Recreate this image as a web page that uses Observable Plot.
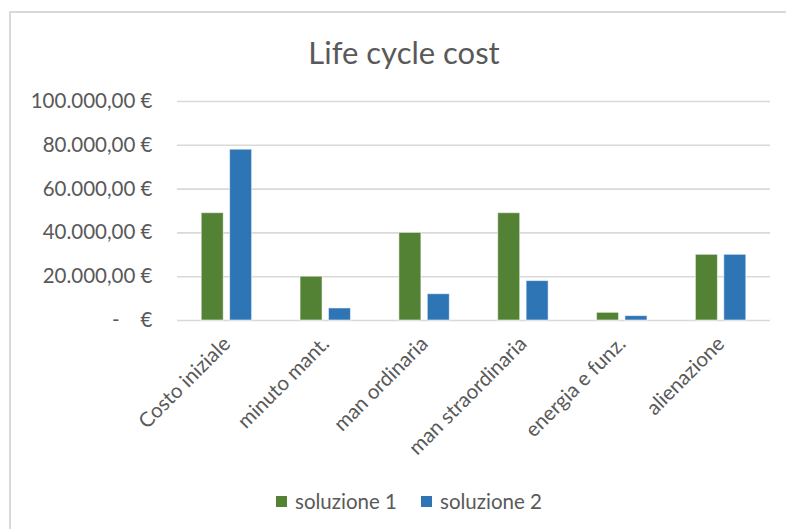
<!DOCTYPE html>
<html><head><meta charset="utf-8">
<script src="https://cdn.jsdelivr.net/npm/d3@7"></script>
<script src="https://cdn.jsdelivr.net/npm/@observablehq/plot@0.6"></script>
<style>
body{margin:0;background:#fff;font-family:Lato,sans-serif;color:#595959;}
#wrap{position:relative;width:786px;height:529px;overflow:hidden;background:#fff;}
#frame{position:absolute;left:9px;top:11px;width:900px;height:900px;border-left:2px solid #d9d9d9;border-top:2px solid #d9d9d9;}
#chart{position:absolute;left:0;top:0;}
#title{position:absolute;left:0;width:808px;top:33px;text-align:center;font-size:31px;line-height:38px;}
.leg{position:absolute;top:488px;font-size:20.5px;line-height:26px;white-space:nowrap;}
.sw{position:absolute;width:11px;height:11px;top:8px;left:0;}
.lt{position:absolute;left:19px;top:0;}
</style></head>
<body><div id="wrap"><div id="frame"></div><div id="chart"></div><div id="title">Life cycle cost</div></div>
<script>
const categories = ["Costo iniziale","minuto mant.","man ordinaria","man straordinaria","energia e funz.","alienazione"];
const seriesNames = ["soluzione 1","soluzione 2"];
const soluzione1 = [49000, 20000, 40000, 49000, 3500, 30000];
const soluzione2 = [78000, 5500, 12000, 18000, 2000, 30000];
const yTicks = [0, 20000, 40000, 60000, 80000, 100000];
const colors = ["#548235", "#2E75B6"];

const rows = categories.map((c, i) => ({cat: c, s1: soluzione1[i], s2: soluzione2[i]}));
const loc = d3.formatLocale({decimal: ",", thousands: ".", grouping: [3], currency: ["", "\u00a0€"]});
const f = loc.format("$,.2f");
const fmt = d => d === 0 ? "-\u00a0\u00a0\u00a0\u00a0€" : f(d);

const chart = Plot.plot({
  width: 786, height: 529,
  marginLeft: 177, marginRight: 16, marginTop: 101, marginBottom: 209,
  style: {fontFamily: "Lato, sans-serif", fontSize: "20.5px", color: "#595959", background: "transparent"},
  x: {domain: categories, paddingInner: 0.49, paddingOuter: 0.245, round: false, label: null, tickSize: 0, tickRotate: -45, tickPadding: 20},
  y: {domain: [0, 100000], ticks: yTicks, tickFormat: fmt, label: null, tickSize: 0, tickPadding: 25},
  marks: [
    Plot.ruleY(yTicks, {stroke: "#d9d9d9", strokeWidth: 1.6}),
    Plot.barY(rows, {x: "cat", y: "s1", fill: colors[0], stroke: "white", strokeOpacity: 0.55, strokeWidth: 1, insetRight: 28.4}),
    Plot.barY(rows, {x: "cat", y: "s2", fill: colors[1], stroke: "white", strokeOpacity: 0.55, strokeWidth: 1, insetLeft: 28.4})
  ]
});
document.getElementById("chart").appendChild(chart);

const legX = [276, 421];
const wrap = document.getElementById("wrap");
seriesNames.forEach((n, i) => {
  const d = document.createElement("div");
  d.className = "leg";
  d.style.left = legX[i] + "px";
  d.innerHTML = `<div class="sw" style="background:${colors[i]}"></div><div class="lt">${n}</div>`;
  wrap.appendChild(d);
});
</script></body></html>
